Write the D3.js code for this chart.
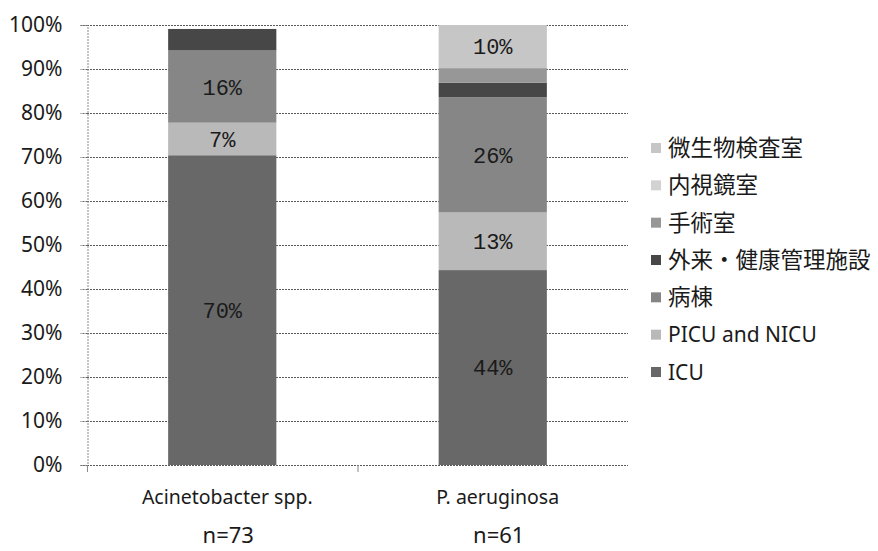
<!DOCTYPE html>
<html>
<head>
<meta charset="utf-8">
<script src="https://cdn.jsdelivr.net/npm/d3@7/dist/d3.min.js"></script>
<style>
  html, body { margin: 0; padding: 0; background: #fff; }
  svg { display: block; }
  text { font-family: "Noto Sans", "Noto Sans CJK JP", sans-serif; fill: #1a1a1a; }
</style>
</head>
<body>
<svg id="chart" width="878" height="551"></svg>
<script>
// Organisms (x categories) and their sample sizes
const categories = ["Acinetobacter spp.", "P. aeruginosa"];
const sampleSizes = ["n=73", "n=61"];

// Locations, listed from the bottom of each stack to the top
const seriesNames = ["ICU", "PICU and NICU", "病棟", "外来・健康管理施設", "手術室", "内視鏡室", "微生物検査室"];

// Share of isolates (%) per location, one value per organism
const icu        = [70.4, 44.3];
const picuNicu   = [7.4, 13.1];
const ward       = [16.4, 26.2];
const outpatient = [4.9, 3.3];
const surgery    = [0, 3.3];
const endoscopy  = [0, 0];
const microLab   = [0, 9.8];

const yTicks = [0, 10, 20, 30, 40, 50, 60, 70, 80, 90, 100];

const seriesValues = [icu, picuNicu, ward, outpatient, surgery, endoscopy, microLab];
const seriesColors = ["#686868", "#b9b9b9", "#868686", "#474747", "#979797", "#d2d2d2", "#c6c6c6"];

const svg = d3.select("#chart");
const plot = { left: 87, right: 628, top: 25, bottom: 465 };

const x = d3.scaleBand()
  .domain(categories)
  .range([plot.left, plot.right])
  .paddingInner(0.6)
  .paddingOuter(0.3);

const y = d3.scaleLinear().domain([0, 100]).range([plot.bottom, plot.top]);

// Table for the stack layout
const rows = categories.map((c, i) => {
  const r = { category: c };
  seriesNames.forEach((s, j) => { r[s] = seriesValues[j][i]; });
  return r;
});
const stacked = d3.stack().keys(seriesNames)(rows);

// Gridlines
svg.append("g")
  .selectAll("line")
  .data(yTicks.filter(t => t > 0))
  .join("line")
  .attr("x1", plot.left).attr("x2", plot.right)
  .attr("y1", d => y(d) + 0.5).attr("y2", d => y(d) + 0.5)
  .attr("stroke", "#5a5a5a")
  .attr("stroke-width", 1)
  .attr("stroke-dasharray", "2,1");

// Y axis
const yAxis = svg.append("g")
  .attr("transform", `translate(${plot.left + 0.5},0)`)
  .call(d3.axisLeft(y).tickValues(yTicks).tickFormat(d => d + "%").tickSize(7).tickPadding(18));
yAxis.select(".domain")
  .attr("stroke", "#8a8a8a").attr("stroke-dasharray", "2,1");
yAxis.selectAll(".tick line")
  .attr("stroke", "#6a6a6a").attr("stroke-dasharray", "2,1");
yAxis.selectAll(".tick text")
  .style("font-size", "21px").style("fill", "#1a1a1a")
  .style("font-family", "'Noto Sans', sans-serif");

// Bars
svg.append("g")
  .selectAll("g")
  .data(stacked)
  .join("g")
  .attr("fill", (d, i) => seriesColors[i])
  .selectAll("rect")
  .data(d => d)
  .join("rect")
  .attr("x", d => x(d.data.category))
  .attr("width", x.bandwidth())
  .attr("y", d => y(d[1]))
  .attr("height", d => y(d[0]) - y(d[1]));

// X axis baseline and category separators
const xBase = svg.append("g");
xBase.append("line")
  .attr("x1", plot.left).attr("x2", plot.right)
  .attr("y1", plot.bottom + 0.5).attr("y2", plot.bottom + 0.5)
  .attr("stroke", "#5a5a5a").attr("stroke-dasharray", "2,1");
const sepX = [plot.left, (x(categories[0]) + x.bandwidth() + x(categories[1])) / 2];
xBase.selectAll(".sep")
  .data(sepX)
  .join("line")
  .attr("class", "sep")
  .attr("x1", d => d + 0.5).attr("x2", d => d + 0.5)
  .attr("y1", plot.bottom).attr("y2", plot.bottom + 7)
  .attr("stroke", "#8a8a8a");

// Value labels inside segments
const labelData = [];
stacked.forEach(layer => {
  layer.forEach(d => {
    const v = d[1] - d[0];
    if (v >= 5) labelData.push({ cat: d.data.category, mid: (d[0] + d[1]) / 2, v });
  });
});
svg.append("g")
  .selectAll("text")
  .data(labelData)
  .join("text")
  .attr("x", d => x(d.cat) + x.bandwidth() / 2)
  .attr("y", d => y(d.mid))
  .attr("dy", "0.36em")
  .attr("text-anchor", "middle")
  .style("font-family", "'Liberation Mono', 'DejaVu Sans Mono', monospace")
  .style("font-size", "22px")
  .style("fill", "#1a1a1a")
  .text(d => Math.round(d.v) + "%");

// Category names and sample sizes
svg.append("g")
  .selectAll("text")
  .data(categories)
  .join("text")
  .attr("x", d => x(d) + x.bandwidth() / 2 + 5)
  .attr("y", 504)
  .attr("text-anchor", "middle")
  .style("font-size", "19.5px")
  .text(d => d);

svg.append("g")
  .selectAll("text")
  .data(sampleSizes)
  .join("text")
  .attr("x", (d, i) => x(categories[i]) + x.bandwidth() / 2 + 6)
  .attr("y", 543)
  .attr("text-anchor", "middle")
  .style("font-size", "22px")
  .text(d => d);

// Legend, top of stack first
const legendItems = seriesNames.map((s, i) => ({ name: s, color: seriesColors[i] })).reverse();
const ly = d3.scalePoint().domain(legendItems.map(d => d.name)).range([148, 372]);
const isCJK = s => /[\u3000-\u9fff]/.test(s);
const legend = svg.append("g");
const li = legend.selectAll("g")
  .data(legendItems)
  .join("g")
  .attr("transform", d => `translate(651,${ly(d.name)})`);
li.append("rect")
  .attr("x", 0).attr("y", -5)
  .attr("width", 10).attr("height", 10)
  .attr("fill", d => d.color);
li.append("text")
  .attr("x", 17)
  .attr("dy", "0.36em")
  .style("font-family", "'Noto Sans', 'Noto Sans CJK JP', sans-serif")
  .style("font-size", d => isCJK(d.name) ? "22.5px" : "21px")
  .text(d => d.name);
</script>
</body>
</html>
